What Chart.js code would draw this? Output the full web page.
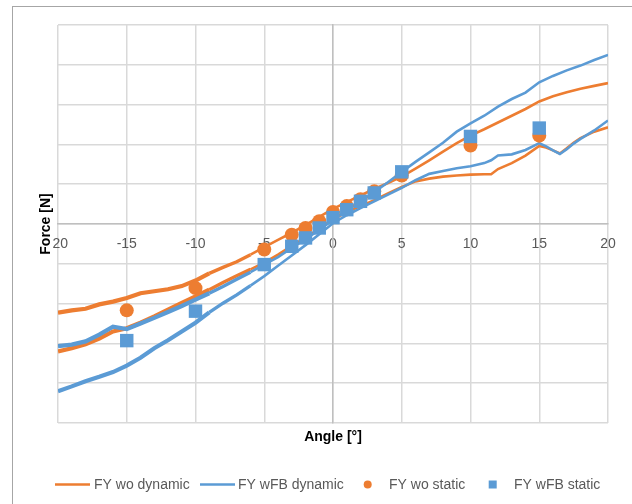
<!DOCTYPE html>
<html>
<head>
<meta charset="utf-8">
<script src="https://cdn.jsdelivr.net/npm/chart.js@4.4.1/dist/chart.umd.min.js"></script>
<style>
  html, body { margin: 0; padding: 0; background: #ffffff; }
  canvas { display: block; }
</style>
</head>
<body>
<canvas id="chart" width="632" height="504"></canvas>
<script>
// Angle sweep [°] of the upper branch of each dynamic loop
const upperAngle = [-20,-19,-18,-17,-16,-15,-14,-13,-12,-11,-10,-9,-8,-7,-6,-5,-4,-3,-2,-1,0,
                    1,2,3,4,5,6,7,8,9,10,11,12,13,14,15,16,17,18,19,20];
// Angle sweep [°] of the lower branch of each dynamic loop
const lowerAngle = [-20,-19,-18,-17,-16,-15,-14,-13,-12,-11,-10,-9,-8,-7,-6,-5,-4,-3,-2,-1,0,
                    1,2,3,4,5,6,7,8,9,10,11,11.5,12,13,14,15,15.5,16,16.5,17,17.5,18,19,20];

// FY wo dynamic
const woDynUpper = [-2.23,-2.17,-2.13,-2.02,-1.95,-1.86,-1.74,-1.69,-1.64,-1.56,-1.42,-1.24,-1.09,-0.95,-0.77,-0.58,-0.40,-0.22,-0.03,0.18,0.38,
                    0.55,0.72,0.88,1.03,1.19,1.39,1.60,1.82,2.03,2.22,2.38,2.55,2.72,2.89,3.08,3.21,3.31,3.40,3.47,3.54];
const woDynLower = [-3.20,-3.12,-3.02,-2.88,-2.70,-2.62,-2.48,-2.32,-2.15,-1.98,-1.82,-1.65,-1.47,-1.30,-1.14,-0.97,-0.77,-0.55,-0.34,-0.12,0.12,
                    0.30,0.45,0.60,0.77,0.93,1.07,1.14,1.19,1.22,1.24,1.25,1.25,1.38,1.53,1.72,1.96,1.92,1.85,1.77,1.90,2.04,2.16,2.32,2.43];

// FY wFB dynamic
const wfbDynUpper = [-3.07,-3.03,-2.95,-2.78,-2.58,-2.64,-2.50,-2.36,-2.21,-2.06,-1.90,-1.74,-1.57,-1.39,-1.21,-1.02,-0.83,-0.60,-0.38,-0.15,0.10,
                     0.35,0.57,0.80,1.05,1.31,1.56,1.80,2.04,2.32,2.53,2.72,2.95,3.14,3.30,3.56,3.72,3.86,3.98,4.12,4.25];
const wfbDynLower = [-4.20,-4.08,-3.95,-3.84,-3.72,-3.56,-3.36,-3.12,-2.92,-2.70,-2.48,-2.22,-1.99,-1.78,-1.55,-1.31,-1.05,-0.79,-0.53,-0.26,0.02,
                     0.22,0.40,0.57,0.74,0.91,1.10,1.26,1.33,1.40,1.45,1.53,1.60,1.72,1.75,1.86,2.03,1.95,1.85,1.76,1.88,2.02,2.14,2.35,2.60];

// Static measurements
const staticAngle = [-15,-10,-5,-3,-2,-1,0,1,2,3,5,10,15];
const woStatic    = [-2.17,-1.61,-0.64,-0.27,-0.10,0.07,0.30,0.45,0.62,0.82,1.22,1.97,2.22];
const wfbStatic   = [-2.93,-2.19,-1.02,-0.56,-0.35,-0.10,0.16,0.36,0.57,0.78,1.31,2.20,2.41];

// Axis ticks
const angleTicks = [-20,-15,-10,-5,0,5,10,15,20];
const forceGrid  = [-5,-4,-3,-2,-1,0,1,2,3,4,5];

const ORANGE = '#ED7D31';
const BLUE = '#5B9BD5';
const TEXT = '#595959';
const FONT = '"Liberation Sans", Arial, sans-serif';

const pts = (xs, ys) => xs.map((x, i) => ({ x: x, y: ys[i] }));
// both branches of a loop in one dataset, separated by a gap
const loop = (ua, uy, la, ly) => pts(ua, uy).concat([{ x: 20, y: null }], pts(la, ly));

// the raw signal is noisier at negative angles: draw it as a wider trace there
const noisyWidth = ctx => {
  const x = ctx.p0.parsed.x;
  if (x < -9) return 4.2;
  if (x < -6) return 3.4;
  return 2.6;
};

const framePlugin = {
  id: 'frame',
  beforeDraw(chart) {
    const c = chart.ctx;
    c.save();
    c.fillStyle = '#ffffff';
    c.fillRect(0, 0, chart.width, chart.height);
    c.strokeStyle = '#a6a6a6';
    c.lineWidth = 1;
    c.strokeRect(12.5, 6.5, chart.width + 20, chart.height + 20);
    c.restore();
  },
  afterDraw(chart) {
    const c = chart.ctx;
    const area = chart.chartArea;
    c.save();
    // axis titles
    c.font = 'bold 14px ' + FONT;
    c.fillStyle = '#000000';
    c.textAlign = 'center';
    c.textBaseline = 'middle';
    c.fillText('Angle [°]', (area.left + area.right) / 2, 437);

    c.save();
    c.translate(45, (area.top + area.bottom) / 2);
    c.rotate(-Math.PI / 2);
    const tw = c.measureText('Force [N]').width;
    c.fillStyle = '#ffffff';
    c.fillRect(-tw / 2 - 2, -8, tw + 4, 16);
    c.fillStyle = '#000000';
    c.fillText('Force [N]', 0, 1);
    c.restore();

    // legend
    const ly = 484.5;
    c.font = '14px ' + FONT;
    c.textAlign = 'left';
    c.fillStyle = TEXT;
    c.lineWidth = 2.6;
    c.lineCap = 'butt';
    c.strokeStyle = ORANGE;
    c.beginPath(); c.moveTo(55, ly); c.lineTo(90, ly); c.stroke();
    c.fillText('FY wo dynamic', 94, ly + 1);
    c.strokeStyle = BLUE;
    c.beginPath(); c.moveTo(200, ly); c.lineTo(235, ly); c.stroke();
    c.fillText('FY wFB dynamic', 238, ly + 1);
    c.fillStyle = ORANGE;
    c.beginPath(); c.arc(367.7, ly, 4, 0, Math.PI * 2); c.fill();
    c.fillStyle = TEXT;
    c.fillText('FY wo static', 389, ly + 1);
    c.fillStyle = BLUE;
    c.fillRect(488.7, ly - 4, 8, 8);
    c.fillStyle = TEXT;
    c.fillText('FY wFB static', 514, ly + 1);
    c.restore();
  }
};

new Chart(document.getElementById('chart'), {
  type: 'scatter',
  data: {
    datasets: [
      {
        label: 'FY wo dynamic',
        data: loop(upperAngle, woDynUpper, lowerAngle, woDynLower),
        showLine: true,
        borderColor: ORANGE,
        backgroundColor: ORANGE,
        borderWidth: 2.6,
        pointRadius: 0,
        tension: 0,
        spanGaps: false,
        segment: { borderWidth: noisyWidth },
        order: 3
      },
      {
        label: 'FY wFB dynamic',
        data: loop(upperAngle, wfbDynUpper, lowerAngle, wfbDynLower),
        showLine: true,
        borderColor: BLUE,
        backgroundColor: BLUE,
        borderWidth: 2.6,
        pointRadius: 0,
        tension: 0,
        spanGaps: false,
        segment: { borderWidth: noisyWidth },
        order: 2
      },
      {
        label: 'FY wo static',
        data: pts(staticAngle, woStatic),
        showLine: false,
        pointStyle: 'circle',
        pointRadius: 7,
        pointBorderWidth: 0,
        backgroundColor: ORANGE,
        borderColor: ORANGE,
        order: 1
      },
      {
        label: 'FY wFB static',
        data: pts(staticAngle, wfbStatic),
        showLine: false,
        pointStyle: 'rect',
        pointRadius: 9.5,
        pointBorderWidth: 0,
        backgroundColor: BLUE,
        borderColor: BLUE,
        order: 0
      }
    ]
  },
  options: {
    responsive: false,
    devicePixelRatio: 1,
    animation: false,
    layout: { padding: { left: 58, top: 25, right: 24, bottom: 81 } },
    plugins: {
      legend: { display: false },
      tooltip: { enabled: false },
      title: { display: false }
    },
    scales: {
      x: {
        type: 'linear',
        position: { y: 0 },
        min: angleTicks[0],
        max: angleTicks[angleTicks.length - 1],
        afterBuildTicks: s => { s.ticks = angleTicks.map(v => ({ value: v })); },
        grid: { color: '#d9d9d9', lineWidth: 1.5, drawTicks: false },
        border: { display: true, color: '#bfbfbf', width: 1.5 },
        ticks: {
          color: TEXT,
          font: { family: FONT, size: 14 },
          padding: 12,
          maxRotation: 0,
          autoSkip: false
        }
      },
      y: {
        type: 'linear',
        position: { x: 0 },
        min: forceGrid[0],
        max: forceGrid[forceGrid.length - 1],
        afterBuildTicks: s => { s.ticks = forceGrid.map(v => ({ value: v })); },
        grid: { color: '#d9d9d9', lineWidth: 1.5, drawTicks: false },
        border: { display: true, color: '#bfbfbf', width: 1.5 },
        ticks: { display: false }
      }
    }
  },
  plugins: [framePlugin]
});
</script>
</body>
</html>
